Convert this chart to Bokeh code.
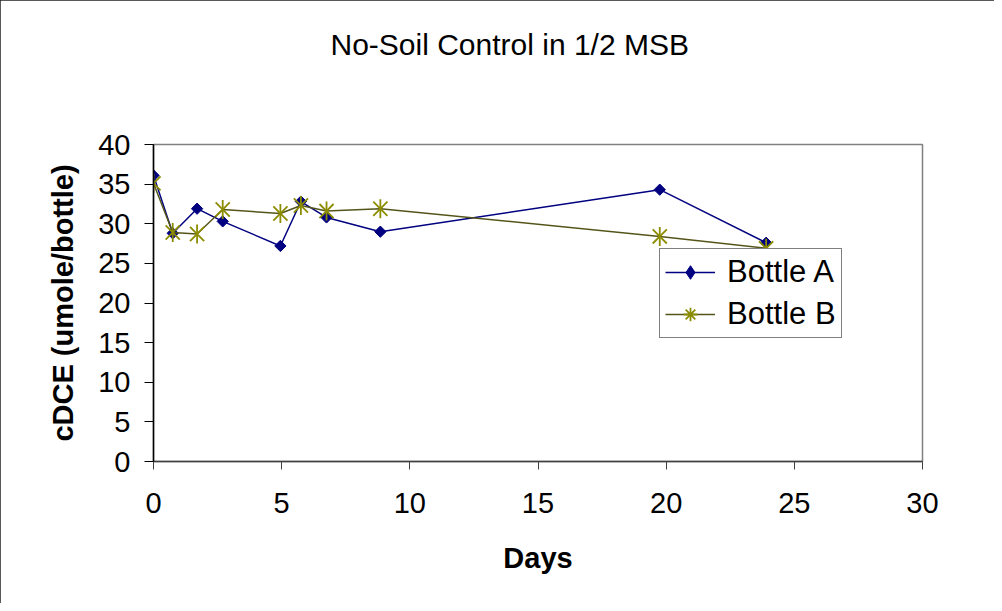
from bokeh.plotting import figure
from bokeh.models import Range1d, FixedTicker, Legend, LegendItem, Title
from bokeh.embed import file_html
from bokeh.resources import INLINE
import math

# ---- data ----
days = [0, 0.75, 1.7, 2.7, 4.95, 5.75, 6.75, 8.85, 19.75, 23.9]
bottle_a = [36.1, 28.8, 31.9, 30.3, 27.2, 32.8, 30.8, 29.0, 34.3, 27.6]
bottle_b = [35.1, 28.9, 28.7, 31.8, 31.3, 32.3, 31.6, 31.9, 28.4, 26.9]
x_ticks = [0, 5, 10, 15, 20, 25, 30]
y_ticks = [0, 5, 10, 15, 20, 25, 30, 35, 40]
series_names = ["Bottle A", "Bottle B"]
title_text = "No-Soil Control in 1/2 MSB"
x_label = "Days"
y_label = "cDCE (umole/bottle)"

FONT = "Liberation Sans"
W, H = 994, 603
LEFT, TOP, FW, FH = 153, 144, 769, 317

p = figure(width=W, height=H, output_backend="svg", toolbar_location=None,
           x_range=Range1d(0, 30), y_range=Range1d(0, 40),
           min_border_left=LEFT, min_border_right=W - LEFT - FW,
           min_border_top=TOP, min_border_bottom=H - TOP - FH)
p.styles = {"outline": "1.5px solid #222222", "outline-offset": "-1px"}
p.background_fill_color = "white"
p.border_fill_color = "white"
p.outline_line_color = "#808080"
p.outline_line_width = 1.5
p.xgrid.visible = False
p.ygrid.visible = False

# real title (outermost) + a blank spacer title next to the frame
p.title.text = title_text
p.title.align = "left"
p.title.offset = 177
p.title.standoff = 10
p.title.text_font = FONT
p.title.text_font_size = "30px"
p.title.text_font_style = "normal"
p.title.text_color = "black"
spacer = Title(text=" ", text_font_size="10px", standoff=66)
p.add_layout(spacer, "above")

for ax, ticks in ((p.xaxis, x_ticks), (p.yaxis, y_ticks)):
    ax.ticker = FixedTicker(ticks=ticks)
    ax.minor_tick_line_color = None
    ax.major_tick_in = 0
    ax.major_label_text_font = FONT
    ax.major_label_text_font_size = "29px"
    ax.major_label_text_color = "black"
    ax.axis_label_text_font = FONT
    ax.axis_label_text_font_size = "29px"
    ax.axis_label_text_font_style = "bold"
    ax.axis_label_text_color = "black"

p.xaxis.axis_label = x_label
p.yaxis.axis_label = y_label
p.xaxis.axis_line_color = "#404040"
p.xaxis.major_tick_line_color = "#404040"
p.xaxis.axis_line_width = 1.5
p.xaxis.major_tick_out = 8
p.xaxis.major_label_standoff = 23
p.xaxis.axis_label_standoff = 26
p.yaxis.axis_line_color = "black"
p.yaxis.major_tick_line_color = "black"
p.yaxis.axis_line_width = 1.5
p.yaxis.major_tick_out = 9
p.yaxis.major_label_standoff = 14
p.yaxis.axis_label_standoff = 16

NAVY = "#000080"
OLIVE = "#8c8c00"

# Bottle A
la = p.line(days, bottle_a, line_color=NAVY, line_width=1.5)
ma = p.scatter(days, bottle_a, marker="square", angle=math.pi / 4, size=8,
               fill_color=NAVY, line_color=NAVY)
# Bottle B
lb = p.line(days, bottle_b, line_color="#55551a", line_width=1.5)
mbx = p.scatter(days, bottle_b, marker="x", size=20,
                line_color=OLIVE, line_width=1.8)
mbv = p.scatter(days, bottle_b, marker="dash", angle=math.pi / 2, size=19,
                line_color=OLIVE, line_width=1.8)

# legend key shapes (hidden in the plot, drawn only in the legend)
key_a = p.scatter(days, bottle_a, marker="diamond", size=13,
                  fill_color=NAVY, line_color=NAVY, visible=False)
key_b = p.scatter(days, bottle_b, marker="asterisk", size=28,
                  line_color=OLIVE, line_width=1.8, visible=False)

legend = Legend(items=[LegendItem(label=series_names[0], renderers=[la, key_a]),
                       LegendItem(label=series_names[1], renderers=[lb, key_b])],
                location=(506, 123))
legend.label_text_font = FONT
legend.label_text_font_size = "31px"
legend.label_text_color = "black"
legend.glyph_width = 50
legend.glyph_height = 34
legend.label_height = 34
legend.spacing = 6
legend.padding = 5
legend.margin = 0
legend.label_standoff = 12
legend.border_line_color = "black"
legend.border_line_width = 1.2
legend.background_fill_alpha = 1
legend.inactive_fill_alpha = 0
p.add_layout(legend)

open("out.html", "w").write(file_html(p, INLINE))
